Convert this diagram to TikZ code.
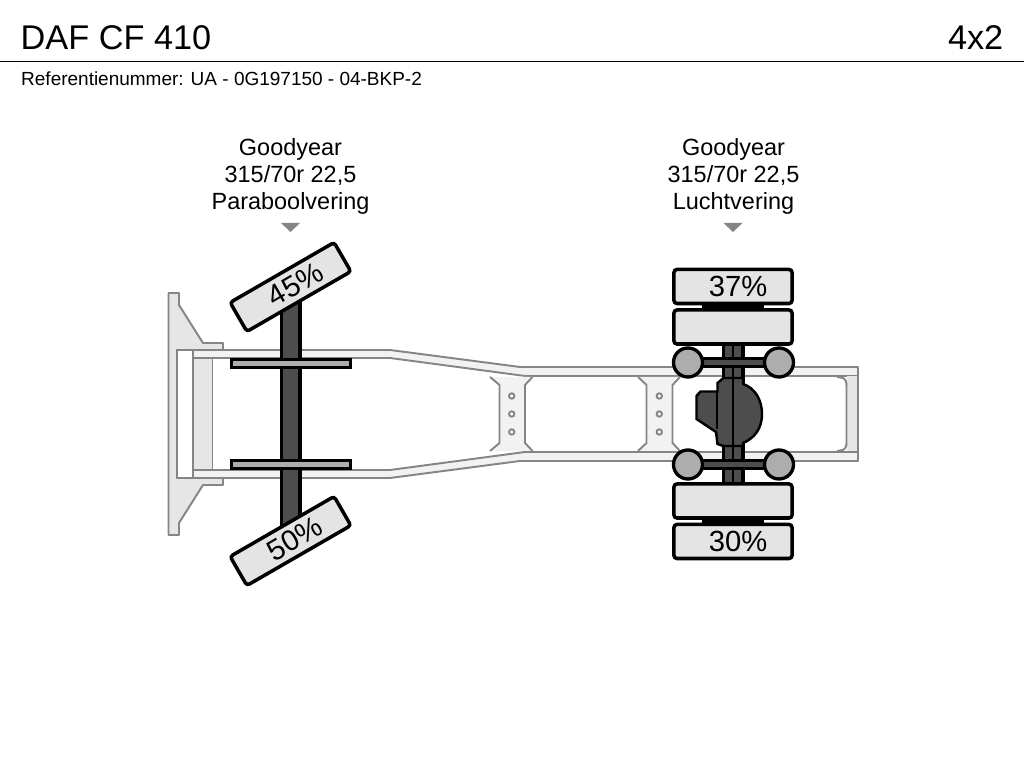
\documentclass[tikz,border=0pt]{standalone}
\usepackage{fontspec}
\setmainfont{Liberation Sans}
\usetikzlibrary{positioning}
\tikzstyle{sheet} = [x = .01cm, y = -.01cm]
\definecolor{frameLine}{HTML}{858585}
\definecolor{frameFill}{HTML}{F2F2F2}
\definecolor{plateFill}{HTML}{E6E6E6}
\definecolor{tyreFill}{HTML}{E4E4E4}
\definecolor{axleFill}{HTML}{4D4D4D}
\definecolor{hubFill}{HTML}{ADADAD}
\tikzstyle{frameStyle} = [draw=frameLine, fill=frameFill, line width=.55pt, line join=round]
\tikzstyle{plateStyle} = [draw=frameLine, fill=plateFill, line width=.55pt, line join=round]
\tikzstyle{axleStyle} = [draw=black, fill=axleFill, line width=1pt]
\tikzstyle{hubStyle} = [draw=black, fill=hubFill, line width=.95pt]
\tikzstyle{tyreStyle} = [draw=black, fill=tyreFill, line width=1pt, rounded corners=.03cm, inner sep=0pt, font=\fontsize{8.3pt}{10pt}\selectfont]
\tikzstyle{frontTyre} = [tyreStyle, minimum width=1.2cm, minimum height=.335cm, rotate=30]
\tikzstyle{rearTyre} = [tyreStyle, minimum width=1.18cm, minimum height=.34cm]
\tikzstyle{axleText} = [align=center, font=\fontsize{6.67pt}{7.55pt}\selectfont]
\tikzstyle{markerStyle} = [fill=frameLine]
\newcommand{\tyreText}[3]{\hspace{#1}\raisebox{#2}{#3}}
\newcommand{\crossMember}[5]{
  \filldraw [frameStyle, draw=none] (#1,377) -- (#2,385) -- (#2,443) -- (#1,451) -- (#4,451) -- (#3,443) -- (#3,385) -- (#4,377) -- cycle;
  \draw [frameStyle, fill=none] (#1,377) -- (#2,385) -- (#2,443) -- (#1,451);
  \draw [frameStyle, fill=none] (#4,377) -- (#3,385) -- (#3,443) -- (#4,451);
  \foreach \hole in {396,414,432} {
    \draw [frameStyle, fill=white] (#5,\hole) circle (.027cm);
  }
}
\newcommand{\axleMarker}[1]{\fill [markerStyle] (#1 - 9.5,223) -- (#1 + 9.5,223) -- (#1,232) -- cycle;}
\begin{document}
\begin{tikzpicture}[sheet]
    \useasboundingbox (0,0) rectangle (1024,768);
    % header
    \node [anchor=base west, inner sep=0pt, font=\fontsize{9.75pt}{11pt}\selectfont] (truckTitle) at (20,50) {DAF CF 410};
    \node [anchor=base east, inner sep=0pt, font=\fontsize{9.75pt}{11pt}\selectfont] (axleConfig) at (1004,50) {4x2};
    \draw [black, line width=.22pt] (0,61) -- (1024,61);
    \node [anchor=base west, inner sep=0pt, font=\fontsize{5.4pt}{7pt}\selectfont] (refNumber) at (20.5,85.5) {Referentienummer: UA - 0G197150 - 04-BKP-2};
    % axle labels
    \node [axleText] (frontLabel) at (290.5,176.5) {Goodyear\\315/70r 22,5\\Paraboolvering};
    \node [axleText] (rearLabel) at (733.5,176.5) {Goodyear\\315/70r 22,5\\Luchtvering};
    \axleMarker{290.5}
    \axleMarker{733}
    % bumper
    \filldraw [plateStyle] (168.5,293) -- (179,293) -- (179,305) -- (203,343) -- (223,343) -- (223,350) -- (177,350) -- (177,478) -- (223,478) -- (223,485) -- (203,485) -- (179,523) -- (179,535) -- (168.5,535) -- cycle;
    \filldraw [plateStyle, fill=white] (177,350) rectangle (193,478);
    \filldraw [plateStyle] (193,358) rectangle (212.5,470);
    % rails
    \foreach \side in {-1,1} {
      \filldraw [frameStyle] (193,414+\side*64) -- (390,414+\side*64) -- (520,414+\side*47) -- (858,414+\side*47) -- (858,414+\side*38) -- (525,414+\side*38) -- (390,414+\side*56) -- (193,414+\side*56) -- cycle;
    }
    \crossMember{490}{499.5}{525}{532.5}{511.7}
    \crossMember{638}{646.5}{672.5}{680}{659.3}
    % rear end piece
    \filldraw [plateStyle, draw=none] (846.5,376.5) rectangle (858,451.5);
    \draw [frameStyle, fill=none] (858,367) -- (858,461);
    \draw [frameStyle, fill=none] (837,377) -- (843,378) .. controls (846,380) and (846.5,382) .. (846.5,386) -- (846.5,442) .. controls (846.5,446) and (846,448) .. (843,450) -- (837,451);
    % front axle
    \filldraw [axleStyle] (281.5,290) rectangle (300,530);
    \foreach \leaf in {363.5,464.5} {
      \filldraw [hubStyle] (231.5,\leaf - 4) rectangle (350.5,\leaf + 4);
    }
    \node [frontTyre] (tyreFrontTop) at (290.5,287) {\tyreText{.11cm}{0cm}{45\%}};
    \node [frontTyre] (tyreFrontBottom) at (290.5,541) {\tyreText{.09cm}{0cm}{50\%}};
    % rear axle
    \filldraw [axleStyle] (723.5,340) rectangle (743,488);
    \filldraw [axleStyle, line width=.7pt] (696.5,396) -- (700.5,391.5) -- (717.5,391.5) -- (717.5,383) -- (723.5,378) -- (743,378) -- (743,384) .. controls (755,388) and (762,400) .. (762,414) .. controls (762,428) and (755,438) .. (743,443) -- (743,446) -- (723.5,446) -- (717.5,444) -- (716,432) -- (696.5,419) -- cycle;
    \draw [black, line width=.5pt] (717,391.5) -- (717,429);
    \draw [black, line width=.5pt] (733.3,340) -- (733.3,488);
    \foreach \bar/\hubLeft/\hubRight in {362.5/hubTopLeft/hubTopRight,464.5/hubBottomLeft/hubBottomRight} {
      \filldraw [axleStyle] (688,\bar - 4) rectangle (779,\bar + 4);
      \node [hubStyle, circle, minimum size=.29cm, inner sep=0pt] (\hubLeft) at (688,\bar) {};
      \node [hubStyle, circle, minimum size=.29cm, inner sep=0pt] (\hubRight) at (779,\bar) {};
    }
    \filldraw [black] (703,303) rectangle (763,310);
    \filldraw [black] (703,518) rectangle (763,524);
    \node [rearTyre] (tyreRearOuterTop) at (733,286.5) {\tyreText{.1cm}{-.02cm}{37\%}};
    \node [rearTyre] (tyreRearInnerTop) at (733,327) {};
    \node [rearTyre] (tyreRearInnerBottom) at (733,501) {};
    \node [rearTyre] (tyreRearOuterBottom) at (733,541.5) {\tyreText{.1cm}{-.01cm}{30\%}};
\end{tikzpicture}
\end{document}
